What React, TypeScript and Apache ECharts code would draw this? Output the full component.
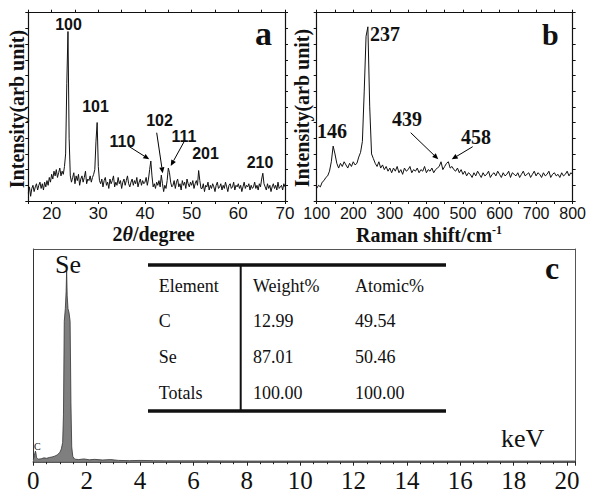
import React, { useEffect, useRef } from "react";
import * as echarts from "echarts";

// ---------- DATA ----------
// (a) XRD pattern, 2θ from 15° to 70° every 0.25°
const XRD_START = 15;
const XRD_STEP = 0.25;
const xrdIntensity = [
  5, 9, 3, 8, 10, 6, 9, 11, 7, 10, 12, 8, 11, 7, 12, 9, 13, 10, 15, 12,
  17, 14, 19, 16, 20, 15, 18, 21, 16, 19, 17, 22,
  30, 75, 108, 40, 16,
  12, 15, 18, 11, 16, 13, 17, 10, 14, 16, 12, 15, 19, 11, 14, 13, 16, 12, 15, 17,
  20, 38, 50, 22, 13,
  11, 14, 9, 13, 15, 10, 12, 8, 14, 11, 13, 16, 9, 12, 10, 15, 11, 13, 8, 12,
  14, 10, 13, 16, 11, 9, 12, 14, 10, 13, 11, 15, 9, 12, 14, 10, 13, 11, 12, 15, 10,
  14, 20, 25.5, 16, 9,
  11, 8, 12, 10, 13, 9,
  16.5, 11, 6, 10, 8, 13,
  21, 18, 12, 9,
  10, 13, 8, 12, 14, 9, 11, 7, 13, 10, 12, 8, 14, 11, 9, 12, 10, 13, 8, 11, 13, 10,
  19.4, 13, 8,
  8, 11, 6, 10, 9, 12, 7, 10, 8, 11, 9, 6, 10, 12, 8, 9, 11, 7, 10, 8, 12, 9, 6, 10, 11,
  8, 9, 12, 7, 10, 9, 11, 8, 10, 6, 9, 12, 8, 10, 9, 11, 7, 10, 8, 9, 12, 8, 10, 7, 11, 9,
  14, 17.7, 11,
  9, 7, 11, 8, 10, 6, 9, 11, 8, 10, 7, 12, 8, 9, 10, 7, 11, 9,
];
const xrdPeakLabels = ["100", "101", "110", "102", "111", "201", "210"];

// (b) Raman spectrum, 100 to 800 cm-1 every 5 cm-1
const RAMAN_START = 100;
const RAMAN_STEP = 5;
const ramanIntensity = [
  8, 10, 9, 12, 13, 15, 16, 19, 25, 35, 30, 24,
  21, 24, 22, 25, 23, 21, 24, 22, 25, 23, 24,
  28, 31, 38, 70, 105, 111, 60, 30,
  27, 24, 22, 25, 21, 23, 20, 22, 19, 21,
  18, 21, 19, 22, 18, 20, 17, 21, 19, 20, 22, 18, 20, 19, 21, 18, 20, 19, 22, 18,
  20, 19, 21, 18, 20, 21, 22, 25, 20, 22, 24, 25, 21, 22, 20, 19, 21, 18, 20,
  17, 19, 16, 18, 17, 15, 18, 16, 19, 17, 15, 18, 16, 17, 19, 15, 17, 18, 16, 19,
  17, 15, 18, 16, 17, 19, 15, 18, 17, 16, 18, 15, 17, 19, 16, 17, 18, 15, 17, 19,
  16, 18, 17, 15, 18, 16, 17, 19, 15, 17, 18, 16, 17, 15, 18, 16, 17, 19, 16, 18, 17,
];
const ramanPeakLabels = ["237", "146", "439", "458"];

// (c) EDS spectrum
const edsEnergy = [
  0, 0.04, 0.08, 0.1, 0.12, 0.16, 0.2, 0.3, 0.4, 0.5, 0.6, 0.7, 0.8, 0.9, 1.0,
  1.05, 1.1, 1.13, 1.16, 1.2, 1.23, 1.25, 1.27, 1.3, 1.34, 1.38, 1.41, 1.44, 1.48,
  1.55, 1.7, 1.9, 2.1, 2.3, 2.6, 2.9, 3.2, 3.6, 4.0, 4.5, 5.0, 6.0, 8.0, 12.0, 16.0, 20.3,
];
const edsCounts = [
  1, 3, 5, 4, 2, 1.5, 1.2, 1.4, 1.8, 1.6, 2.0, 2.2, 2.6, 3.2, 4.5,
  6, 9, 22, 66, 72, 80, 90, 78, 72, 70, 66, 28, 7, 2.5,
  1.2, 1.0, 1.3, 0.9, 1.1, 0.8, 1.0, 0.6, 0.5, 0.6, 0.5, 0.4, 0.4, 0.3, 0.3, 0.3, 0.3,
];

// EDS composition table
const tableHeader = ["Element", "Weight%", "Atomic%"];
const tableElements = ["C", "Se", "Totals"];
const tableWeight = ["12.99", "87.01", "100.00"];
const tableAtomic = ["49.54", "50.46", "100.00"];

// ---------- STYLE ----------
const SANS = "Liberation Sans, Arial, Helvetica, sans-serif";
const SERIF = "Liberation Serif, Times New Roman, Times, serif";

function arrow(x1: number, y1: number, x2: number, y2: number) {
  const dx = x2 - x1;
  const dy = y2 - y1;
  const L = Math.hypot(dx, dy);
  const ux = dx / L;
  const uy = dy / L;
  const hl = 6;
  const hw = 2.6;
  const bx = x2 - ux * hl;
  const by = y2 - uy * hl;
  return [
    { type: "line", z: 50, shape: { x1, y1, x2: bx, y2: by }, style: { stroke: "#000", lineWidth: 1 } },
    {
      type: "polygon",
      z: 50,
      shape: { points: [[x2, y2], [bx - uy * hw, by + ux * hw], [bx + uy * hw, by - ux * hw]] },
      style: { fill: "#000" },
    },
  ];
}

function txt(text: string, x: number, y: number, font: string, align = "center", extra: any = {}) {
  return {
    type: "text",
    z: 60,
    x,
    y,
    style: { text, font, fill: "#111", align, verticalAlign: "middle", ...extra },
  };
}

export default function App() {
  const ref = useRef<HTMLDivElement>(null);

  useEffect(() => {
    if (!ref.current) return;
    const chart = echarts.init(ref.current, undefined, { renderer: "svg" });

    const xrdData = xrdIntensity.map((v, i) => [XRD_START + i * XRD_STEP, v]);
    const ramanData = ramanIntensity.map((v, i) => [RAMAN_START + i * RAMAN_STEP, v]);
    const edsData = edsEnergy.map((e, i) => [e, edsCounts[i]]);

    const dark = "#111";
    const frameAxisLine = { show: true, onZero: false, lineStyle: { color: dark, width: 1.2 } };
    const outTick = { show: true, inside: false, length: 3, lineStyle: { color: dark, width: 1 } };
    const noLabel = { show: false };
    const noSplit = { show: false };

    const xrdPeakPos = [
      [68.5, 24], [95.5, 106], [122.5, 141], [159.5, 120.5], [184, 136], [205.5, 153], [260, 162.5],
    ];
    const ramanPeakPos = [[385, 33.5], [332, 130.5], [407, 118.5], [476, 136.5]];

    const tableRowsY = [321, 357, 393];
    const colX = [158.7, 253, 355];

    const graphic: any[] = [
      // panel letters
      txt("a", 255, 33, `bold 34px ${SERIF}`, "left"),
      txt("b", 542, 34, `bold 30px ${SERIF}`, "left"),
      txt("c", 545, 268, `bold 32px ${SERIF}`, "left"),
      // axis titles
      {
        type: "text",
        z: 60,
        x: 153.6,
        y: 234,
        style: {
          text: "{b|2}{i|θ}{b|/degree}",
          align: "center",
          verticalAlign: "middle",
          rich: {
            b: { fontFamily: SERIF, fontWeight: "bold", fontSize: 20, fill: "#111" },
            i: { fontFamily: SERIF, fontWeight: "bold", fontStyle: "italic", fontSize: 20, fill: "#111" },
          },
        },
      },
      {
        type: "text",
        z: 60,
        x: 429,
        y: 235,
        style: {
          text: "{b|Raman shift/cm}{s|-1}",
          align: "center",
          verticalAlign: "middle",
          rich: {
            b: { fontFamily: SERIF, fontWeight: "bold", fontSize: 20, fill: "#111", lineHeight: 22 },
            s: { fontFamily: SERIF, fontWeight: "bold", fontSize: 12, fill: "#111", verticalAlign: "top", lineHeight: 22 },
          },
        },
      },
      { ...txt("Intensity(arb unit)", 17, 109, `bold 20px ${SERIF}`), rotation: Math.PI / 2 },
      { ...txt("Intensity(arb unit)", 302, 108, `bold 20px ${SERIF}`), rotation: Math.PI / 2 },
      // XRD peak labels
      ...xrdPeakLabels.map((t, i) => txt(t, xrdPeakPos[i][0], xrdPeakPos[i][1], `bold 16px ${SANS}`)),
      ...arrow(128.3, 146, 149.3, 159.3),
      ...arrow(156.7, 132.7, 162.7, 173.3),
      ...arrow(185, 140, 170.7, 166),
      // Raman peak labels
      ...ramanPeakLabels.map((t, i) => txt(t, ramanPeakPos[i][0], ramanPeakPos[i][1], `bold 20px ${SERIF}`)),
      ...arrow(410.7, 132.7, 438.3, 159.3),
      ...arrow(472.7, 146.7, 451.7, 159.3),
      // EDS labels
      txt("Se", 55, 264, `26px ${SERIF}`, "left"),
      txt("C", 34, 446, `10px ${SERIF}`, "left"),
      txt("keV", 501, 438, `26px ${SERIF}`, "left"),
      // table rules
      { type: "line", z: 55, shape: { x1: 148, y1: 265, x2: 446, y2: 265 }, style: { stroke: "#111", lineWidth: 3.5 } },
      { type: "line", z: 55, shape: { x1: 148, y1: 411, x2: 446, y2: 411 }, style: { stroke: "#111", lineWidth: 3.5 } },
      { type: "line", z: 55, shape: { x1: 240.7, y1: 265, x2: 240.7, y2: 411 }, style: { stroke: "#111", lineWidth: 2 } },
      // table header + rows
      ...tableHeader.map((h, j) => txt(h, colX[j], 286, `18px ${SERIF}`, "left")),
      ...tableElements.map((e, r) => txt(e, colX[0], tableRowsY[r], `18px ${SERIF}`, "left")),
      ...tableWeight.map((w, r) => txt(w, colX[1], tableRowsY[r], `18px ${SERIF}`, "left")),
      ...tableAtomic.map((a, r) => txt(a, colX[2], tableRowsY[r], `18px ${SERIF}`, "left")),
    ];

    const option: any = {
      animation: false,
      backgroundColor: "#fff",
      grid: [
        { left: 28.3, top: 12.7, width: 256.7, height: 188.3 },
        { left: 316.7, top: 12.7, width: 256.3, height: 188.3 },
        { left: 33.3, top: 249, width: 541.7, height: 212.7 },
      ],
      xAxis: [
        {
          type: "value", gridIndex: 0, position: "bottom", min: 15, max: 70, interval: 5,
          axisLine: frameAxisLine, axisTick: outTick, splitLine: noSplit,
          axisLabel: {
            show: true, interval: 0, margin: 4, color: dark, fontFamily: SANS, fontSize: 17,
            formatter: (v: number) => (v % 10 === 0 ? String(v) : ""),
          },
        },
        {
          type: "value", gridIndex: 0, position: "top", min: 15, max: 70, interval: 5,
          axisLine: frameAxisLine, axisTick: outTick, splitLine: noSplit, axisLabel: noLabel,
        },
        {
          type: "value", gridIndex: 1, position: "bottom", min: 100, max: 800, interval: 50,
          axisLine: frameAxisLine, axisTick: outTick, splitLine: noSplit,
          axisLabel: {
            show: true, interval: 0, margin: 4, color: dark, fontFamily: SANS, fontSize: 16,
            formatter: (v: number) => (v % 100 === 0 ? String(v) : ""),
          },
        },
        {
          type: "value", gridIndex: 1, position: "top", min: 100, max: 800, interval: 50,
          axisLine: frameAxisLine, axisTick: outTick, splitLine: noSplit, axisLabel: noLabel,
        },
        {
          type: "value", gridIndex: 2, position: "bottom", min: 0, max: 20.3, interval: 2,
          axisLine: { show: true, onZero: false, lineStyle: { color: "#222", width: 1.5 } },
          axisTick: { show: true, inside: false, length: 4, lineStyle: { color: "#222", width: 1 } },
          minorTick: { show: true, splitNumber: 4, length: 2.5, lineStyle: { color: "#222", width: 1 } },
          splitLine: noSplit,
          axisLabel: {
            show: true, interval: 0, margin: 6, color: dark, fontFamily: SERIF, fontSize: 25,
            formatter: (v: number) => (Math.abs(v % 2) < 1e-9 ? String(v) : ""),
          },
        },
        {
          type: "value", gridIndex: 2, position: "top", min: 0, max: 20.3,
          axisLine: { show: true, onZero: false, lineStyle: { color: "#555", width: 1 } },
          axisTick: { show: false }, splitLine: noSplit, axisLabel: noLabel,
        },
      ],
      yAxis: [
        {
          type: "value", gridIndex: 0, position: "left", min: 0, max: 120, interval: 10,
          axisLine: frameAxisLine, axisTick: outTick, splitLine: noSplit, axisLabel: noLabel,
        },
        {
          type: "value", gridIndex: 0, position: "right", min: 0, max: 120, interval: 10,
          axisLine: frameAxisLine, axisTick: outTick, splitLine: noSplit, axisLabel: noLabel,
        },
        {
          type: "value", gridIndex: 1, position: "left", min: 0, max: 120, interval: 10,
          axisLine: frameAxisLine, axisTick: outTick, splitLine: noSplit, axisLabel: noLabel,
        },
        {
          type: "value", gridIndex: 1, position: "right", min: 0, max: 120, interval: 10,
          axisLine: frameAxisLine, axisTick: outTick, splitLine: noSplit, axisLabel: noLabel,
        },
        {
          type: "value", gridIndex: 2, position: "left", min: 0, max: 100,
          axisLine: { show: true, onZero: false, lineStyle: { color: "#333", width: 1 } },
          axisTick: { show: false }, splitLine: noSplit, axisLabel: noLabel,
        },
        {
          type: "value", gridIndex: 2, position: "right", min: 0, max: 100,
          axisLine: { show: true, onZero: false, lineStyle: { color: "#555", width: 1 } },
          axisTick: { show: false }, splitLine: noSplit, axisLabel: noLabel,
        },
      ],
      series: [
        {
          type: "line", xAxisIndex: 0, yAxisIndex: 0, data: xrdData, symbol: "none",
          lineStyle: { color: "#111", width: 1 }, silent: true,
        },
        {
          type: "line", xAxisIndex: 2, yAxisIndex: 2, data: ramanData, symbol: "none",
          lineStyle: { color: "#111", width: 1 }, silent: true,
        },
        {
          type: "line", xAxisIndex: 4, yAxisIndex: 4, data: edsData, symbol: "none",
          lineStyle: { color: "#333", width: 0.8 }, areaStyle: { color: "#7f7f7f", opacity: 1 }, silent: true,
        },
      ],
      graphic,
    };

    chart.setOption(option);
    return () => chart.dispose();
  }, []);

  return (
    <div
      ref={ref}
      style={{ position: "fixed", left: 0, top: 0, width: 589, height: 493, background: "#fff" }}
    />
  );
}
